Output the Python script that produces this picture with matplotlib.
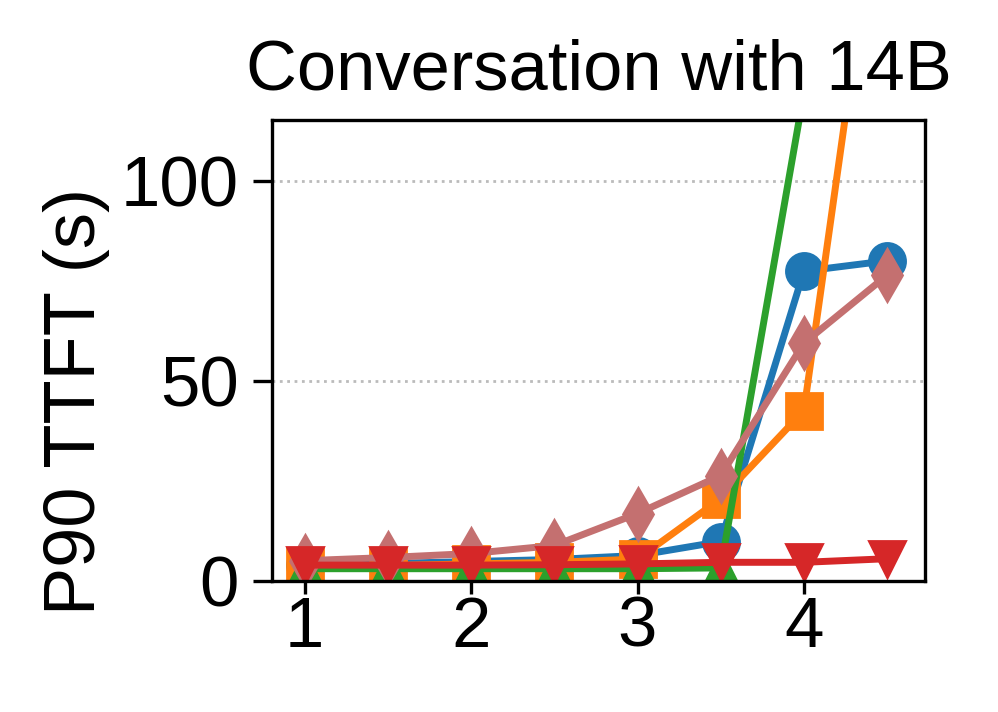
import matplotlib.pyplot as plt

plt.rcParams['font.family'] = ['Liberation Sans', 'DejaVu Sans']

x = [1, 1.5, 2, 2.5, 3, 3.5, 4, 4.5]
blue = [4.0, 4.3, 4.8, 5.3, 6.3, 9.8, 77.4, 80.0]
orange = [3.6, 3.8, 4.2, 4.6, 5.4, 20.5, 42.5, 190.0]
green = [3.0, 3.0, 3.0, 3.0, 3.0, 3.2, 122.0, 250.0]
pink = [5.0, 5.8, 6.8, 8.8, 16.8, 26.3, 59.4, 76.4]
red = [3.9, 3.9, 3.9, 4.0, 4.2, 4.6, 4.6, 5.5]

fig = plt.figure(figsize=(4.99, 3.56), dpi=200)
ax = fig.add_axes([0.2725, 0.1844, 0.6547, 0.647])

ax.plot(x, blue, color='#1f77b4', marker='o', markersize=13, linewidth=2.5)
ax.plot(x, orange, color='#ff7f0e', marker='s', markersize=13, linewidth=2.5)
ax.plot(x, green, color='#2ca02c', marker='^', markersize=13, linewidth=2.5)
ax.plot(x, pink, color='#c47070', marker='d', markersize=13, linewidth=2.5)
ax.plot(x, red, color='#d62728', marker='v', markersize=13, linewidth=2.5)

ax.set_xlim(0.803, 4.73)
ax.set_ylim(0, 115.2)
ax.set_xticks([1, 2, 3, 4])
ax.set_yticks([0, 50, 100])
ax.tick_params(axis='both', labelsize=25.5, width=1.2)
ax.tick_params(axis='x', length=4.5, pad=1)
ax.tick_params(axis='y', length=7, pad=5)
ax.yaxis.grid(True, color='#bbbbbb', linestyle=':', linewidth=1)
ax.set_axisbelow(True)
for s in ax.spines.values():
    s.set_linewidth(1.2)

ax.set_ylabel('P90 TTFT (s)', fontsize=26)
ax.yaxis.set_label_coords(-0.248, 0.389)
ax.set_title('Conversation with 14B', fontsize=25.4, pad=11)

fig.savefig('out.png', dpi=200)
